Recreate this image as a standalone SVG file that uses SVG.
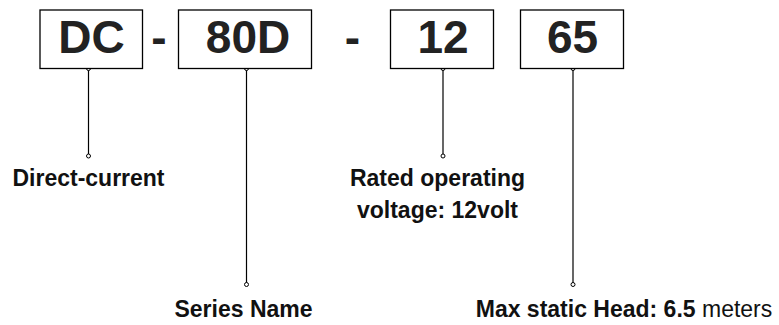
<svg xmlns="http://www.w3.org/2000/svg" width="779" height="325" viewBox="0 0 779 325">
<style>
.box{fill:#fff;stroke:#000;stroke-width:1.3}
.big{font-family:"Liberation Sans",Arial,sans-serif;font-weight:bold;font-size:46px;fill:#222;text-anchor:middle}
.lbl{font-family:"Liberation Sans",Arial,sans-serif;font-weight:bold;font-size:23px;fill:#111;text-anchor:middle}
.n{font-weight:normal}
.ln{stroke:#000;stroke-width:1.2;fill:none}
.dot{fill:#fff;stroke:#000;stroke-width:1}
</style>
<rect width="779" height="325" fill="#fff"/>
<g id="connectors">
<line class="ln" x1="88.5" y1="70" x2="88.5" y2="154"/>
<line class="ln" x1="246.5" y1="70" x2="246.5" y2="283"/>
<line class="ln" x1="443" y1="70" x2="443" y2="154"/>
<line class="ln" x1="573" y1="70" x2="573" y2="283"/>
<circle class="dot" cx="88.5" cy="68.5" r="2"/>
<circle class="dot" cx="88.5" cy="156" r="2"/>
<circle class="dot" cx="246.5" cy="68.5" r="2"/>
<circle class="dot" cx="246.5" cy="284.5" r="2"/>
<circle class="dot" cx="443" cy="68.5" r="2"/>
<circle class="dot" cx="443" cy="156" r="2"/>
<circle class="dot" cx="573" cy="68.5" r="2"/>
<circle class="dot" cx="573" cy="284.5" r="2"/>
</g>
<g id="box-dc"><rect class="box" x="40" y="10" width="102.5" height="58.5"/><text class="big" x="91.5" y="53">DC</text></g>
<text class="big" x="159" y="53">-</text>
<g id="box-80d"><rect class="box" x="178.5" y="10" width="133" height="58.5"/><text class="big" x="248" y="53">80D</text></g>
<text class="big" x="352.5" y="53">-</text>
<g id="box-12"><rect class="box" x="390.5" y="10" width="103" height="58.5"/><text class="big" x="443" y="53">12</text></g>
<g id="box-65"><rect class="box" x="520.5" y="10" width="103" height="58.5"/><text class="big" x="572.5" y="53">65</text></g>
<g id="label-dc"><text class="lbl" x="88.5" y="186">Direct-current</text></g>
<g id="label-80d"><text class="lbl" x="243.5" y="317">Series Name</text></g>
<g id="label-12"><text class="lbl" x="437.5" y="186">Rated operating</text><text class="lbl" x="437.5" y="218">voltage: 12volt</text></g>
<g id="label-65"><text class="lbl" x="624" y="317">Max static Head: 6.5 <tspan class="n">meters</tspan></text></g>
</svg>
